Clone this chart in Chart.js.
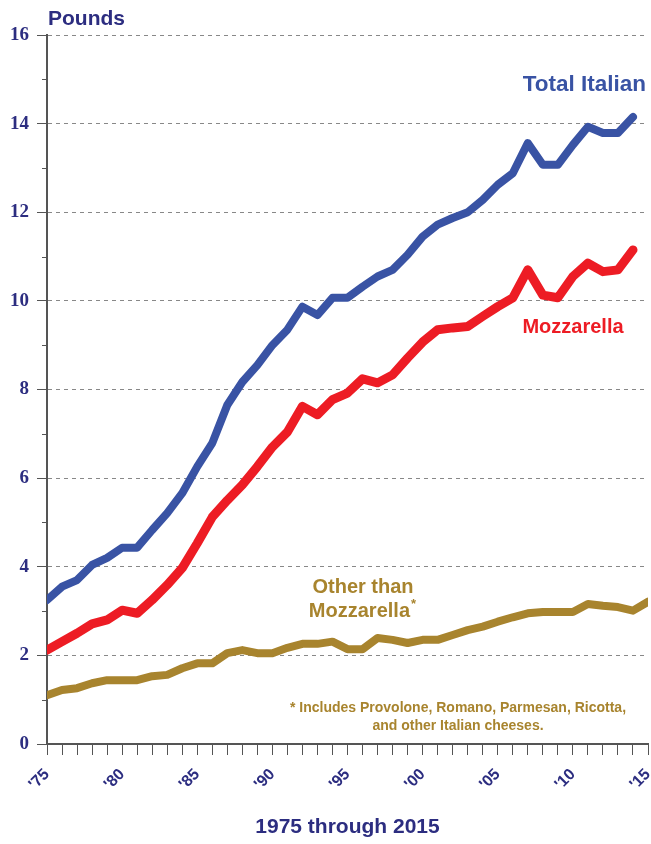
<!DOCTYPE html>
<html>
<head>
<meta charset="utf-8">
<script src="https://cdn.jsdelivr.net/npm/chart.js@4/dist/chart.umd.min.js"></script>
<style>
  html, body { margin: 0; padding: 0; background: #fff; }
  canvas { display: block; }
</style>
</head>
<body>
<canvas id="chart" width="651" height="844"></canvas>
<script>
// per capita consumption, pounds
const years = [];
for (let y = 1975; y <= 2015; y++) years.push(y);

const totalItalian = [
  3.25, 3.55, 3.70, 4.04, 4.20, 4.43, 4.43, 4.83, 5.21, 5.66,
  6.26, 6.79, 7.65, 8.17, 8.55, 9.00, 9.35, 9.87, 9.68, 10.07,
  10.07, 10.32, 10.55, 10.70, 11.04, 11.45, 11.72, 11.87, 12.00, 12.28,
  12.62, 12.88, 13.56, 13.07, 13.07, 13.52, 13.93, 13.79, 13.79, 14.15,
  null
];
const mozzarella = [
  2.12, 2.31, 2.50, 2.71, 2.80, 3.02, 2.95, 3.25, 3.59, 3.97,
  4.53, 5.12, 5.50, 5.85, 6.26, 6.70, 7.04, 7.62, 7.43, 7.77,
  7.92, 8.24, 8.15, 8.33, 8.71, 9.07, 9.35, 9.39, 9.42, 9.65,
  9.87, 10.07, 10.70, 10.13, 10.07, 10.55, 10.85, 10.66, 10.70, 11.15,
  null
];
const otherItalian = [
  1.10, 1.22, 1.26, 1.37, 1.44, 1.44, 1.44, 1.53, 1.56, 1.71,
  1.82, 1.82, 2.05, 2.12, 2.05, 2.05, 2.17, 2.26, 2.26, 2.31,
  2.14, 2.14, 2.39, 2.35, 2.28, 2.35, 2.35, 2.46, 2.57, 2.65,
  2.76, 2.86, 2.95, 2.98, 2.98, 2.98, 3.16, 3.12, 3.09, 3.01,
  3.21
];

const NAVY = '#2c2d80';
const BLUE = '#3953a4';
const RED = '#ed1c24';
const GOLD = '#a8842e';

const toPoints = vals => vals.map((v, i) => ({ x: years[i], y: v }));

const lineSet = (label, vals, color, width) => ({
  label,
  data: toPoints(vals),
  borderColor: color,
  backgroundColor: color,
  borderWidth: width,
  pointRadius: 0,
  tension: 0,
  borderJoinStyle: 'round',
  borderCapStyle: 'round',
  spanGaps: false
});

// short ticks at odd pound values + text labels
const extras = {
  id: 'extras',
  afterDraw(chart) {
    const { ctx } = chart;
    const ys = chart.scales.y;
    ctx.save();
    ctx.strokeStyle = '#555';
    ctx.lineWidth = 1;
    for (let v = 1; v < 16; v += 2) {
      const py = Math.round(ys.getPixelForValue(v)) + 0.5;
      ctx.beginPath();
      ctx.moveTo(ys.right - 5, py);
      ctx.lineTo(ys.right, py);
      ctx.stroke();
    }

    ctx.textBaseline = 'alphabetic';
    ctx.fillStyle = NAVY;
    ctx.textAlign = 'left';
    ctx.font = 'bold 21px "Liberation Sans", Arial, sans-serif';
    ctx.fillText('Pounds', 48, 25);

    ctx.fillStyle = BLUE;
    ctx.textAlign = 'right';
    ctx.font = 'bold 22.5px "Liberation Sans", Arial, sans-serif';
    ctx.fillText('Total Italian', 646, 91);

    ctx.fillStyle = RED;
    ctx.textAlign = 'center';
    ctx.font = 'bold 20px "Liberation Sans", Arial, sans-serif';
    ctx.fillText('Mozzarella', 573, 333);

    ctx.fillStyle = GOLD;
    ctx.font = 'bold 20px "Liberation Sans", Arial, sans-serif';
    ctx.fillText('Other than', 363, 593);
    ctx.textAlign = 'right';
    ctx.fillText('Mozzarella', 410, 617);
    ctx.textAlign = 'left';
    ctx.font = 'bold 13px "Liberation Sans", Arial, sans-serif';
    ctx.fillText('*', 411, 608);

    ctx.textAlign = 'center';
    ctx.font = 'bold 14px "Liberation Sans", Arial, sans-serif';
    ctx.fillText('* Includes Provolone, Romano, Parmesan, Ricotta,', 458, 712);
    ctx.fillText('and other Italian cheeses.', 458, 730);
    ctx.restore();
  }
};

new Chart(document.getElementById('chart'), {
  type: 'line',
  data: {
    datasets: [
      lineSet('Other than Mozzarella', otherItalian, GOLD, 8),
      lineSet('Mozzarella', mozzarella, RED, 9),
      lineSet('Total Italian', totalItalian, BLUE, 8)
    ]
  },
  options: {
    responsive: false,
    animation: false,
    layout: { padding: { top: 35, right: 3, left: 0, bottom: 0 } },
    plugins: {
      legend: { display: false },
      tooltip: { enabled: false }
    },
    scales: {
      x: {
        type: 'linear',
        min: 1975,
        max: 2015,
        afterFit(scale) {
          scale.height = 100;
          scale.paddingLeft = 0;
          scale.paddingRight = 0;
        },
        ticks: {
          stepSize: 1,
          autoSkip: false,
          minRotation: 45,
          maxRotation: 45,
          padding: 10,
          color: NAVY,
          font: { family: '"Liberation Sans", Arial, sans-serif', size: 16, weight: 'bold' },
          callback: v => (v % 5 === 0 ? "'" + String(v).slice(2) : '')
        },
        grid: {
          drawOnChartArea: false,
          tickLength: 11,
          tickColor: '#555',
          lineWidth: 1
        },
        border: { display: true, color: '#555', width: 2 },
        title: {
          display: true,
          text: '1975 through 2015',
          color: NAVY,
          font: { family: '"Liberation Sans", Arial, sans-serif', size: 21, weight: 'bold' },
          padding: { top: 0, bottom: 4 }
        }
      },
      y: {
        min: 0,
        max: 16,
        afterFit(scale) { scale.width = 47; },
        ticks: {
          stepSize: 1,
          autoSkip: false,
          padding: 8,
          color: NAVY,
          font: { family: '"Liberation Serif", "Times New Roman", serif', size: 19, weight: 'bold' },
          callback: v => (v % 2 === 0 ? String(v) : '')
        },
        grid: {
          color: ctx => (ctx.tick && ctx.tick.value % 2 === 0 && ctx.tick.value !== 0 ? '#888' : 'rgba(0,0,0,0)'),
          tickColor: ctx => (ctx.tick && ctx.tick.value % 2 === 0 ? '#555' : 'rgba(0,0,0,0)'),
          tickLength: 10,
          lineWidth: 1
        },
        border: { display: true, color: '#555', width: 2, dash: [4, 4] }
      }
    }
  },
  plugins: [extras]
});
</script>
</body>
</html>
